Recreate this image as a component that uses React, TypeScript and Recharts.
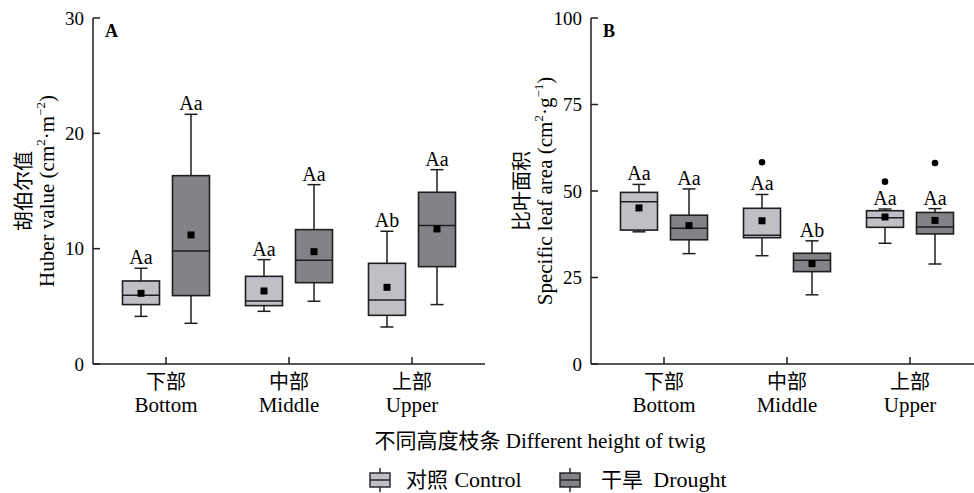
import React from "react";
import { Bar, ComposedChart, XAxis, YAxis } from "recharts";

const FONT = "'Liberation Serif', 'Times New Roman', 'Noto Sans CJK SC', serif";
const CONTROL_FILL = "#c1bfc6";
const DROUGHT_FILL = "#838287";
const INK = "#1e1e1e";

const heightsZh = ["下部", "中部", "上部"];
const heightsEn = ["Bottom", "Middle", "Upper"];

// box stats per twig height: [min, q1, median, q3, max]
const huberControl = [
  [4.13, 5.15, 5.96, 7.2, 8.3],
  [4.57, 5.06, 5.46, 7.6, 9.05],
  [3.21, 4.22, 5.55, 8.73, 11.51],
];
const huberControlMean = [6.13, 6.33, 6.65];
const huberControlLetters = ["Aa", "Aa", "Ab"];
const huberDrought = [
  [3.53, 5.93, 9.8, 16.33, 21.65],
  [5.44, 7.05, 8.99, 11.65, 15.55],
  [5.15, 8.44, 12.0, 14.89, 16.85],
];
const huberDroughtMean = [11.19, 9.74, 11.71];
const huberDroughtLetters = ["Aa", "Aa", "Aa"];
const huberTicks = [0, 10, 20, 30];

const slaControl = [
  [38.2, 38.7, 46.9, 49.6, 51.9],
  [31.3, 36.5, 37.2, 45.0, 49.0],
  [34.9, 39.5, 42.3, 44.3, 44.8],
];
const slaControlMean = [45.1, 41.4, 42.5];
const slaControlOutliers = [[], [58.3], [52.7]];
const slaControlLetters = ["Aa", "Aa", "Aa"];
const slaDrought = [
  [31.9, 35.9, 39.2, 43.0, 50.6],
  [20.0, 26.7, 30.0, 32.0, 35.6],
  [28.9, 37.6, 39.6, 43.8, 44.9],
];
const slaDroughtMean = [40.0, 29.0, 41.5];
const slaDroughtOutliers = [[], [], [58.1]];
const slaDroughtLetters = ["Aa", "Ab", "Aa"];
const slaTicks = [0, 25, 50, 75, 100];

type Stat = { box: number[]; mean: number; letter: string; outliers: number[] };
type Row = { name: string; control: Stat; drought: Stat };

function buildRows(
  c: number[][], cMean: number[], cLet: string[], cOut: number[][],
  d: number[][], dMean: number[], dLet: string[], dOut: number[][]
): Row[] {
  return heightsZh.map((name, i) => ({
    name,
    control: { box: c[i], mean: cMean[i], letter: cLet[i], outliers: cOut[i] },
    drought: { box: d[i], mean: dMean[i], letter: dLet[i], outliers: dOut[i] },
  }));
}

const none = [[], [], []];
const huberRows = buildRows(
  huberControl, huberControlMean, huberControlLetters, none,
  huberDrought, huberDroughtMean, huberDroughtLetters, none
);
const slaRows = buildRows(
  slaControl, slaControlMean, slaControlLetters, slaControlOutliers,
  slaDrought, slaDroughtMean, slaDroughtLetters, slaDroughtOutliers
);

function span(s: Stat): [number, number] {
  return [Math.min(s.box[0], ...s.outliers), Math.max(s.box[4], ...s.outliers)];
}

function makeBoxShape(key: "control" | "drought", fill: string) {
  return (props: any) => {
    const { x, y, width, height, payload } = props;
    const s: Stat = payload[key];
    const [lo, hi] = span(s);
    const yLo = y + height;
    const yHi = y;
    const py = (v: number) => yLo + ((v - lo) / (hi - lo)) * (yHi - yLo);
    const cx = x + width / 2;
    const cap = 6.5;
    const [mn, q1, md, q3, mx] = s.box;
    const line = { stroke: INK, strokeWidth: 1.5 };
    return (
      <g>
        <line x1={cx} x2={cx} y1={py(mx)} y2={py(q3)} {...line} />
        <line x1={cx} x2={cx} y1={py(q1)} y2={py(mn)} {...line} />
        <line x1={cx - cap} x2={cx + cap} y1={py(mx)} y2={py(mx)} {...line} />
        <line x1={cx - cap} x2={cx + cap} y1={py(mn)} y2={py(mn)} {...line} />
        <rect x={x} y={py(q3)} width={width} height={py(q1) - py(q3)} fill={fill} stroke={INK} strokeWidth={1.6} />
        <line x1={x} x2={x + width} y1={py(md)} y2={py(md)} {...line} />
        <rect x={cx - 3.5} y={py(s.mean) - 3.5} width={7} height={7} fill="#000" />
        {s.outliers.map((o, i) => (
          <circle key={i} cx={cx} cy={py(o)} r={3.3} fill="#000" />
        ))}
        <text x={cx} y={py(mx) - 4} textAnchor="middle" fontSize={20} fontFamily={FONT} fill="#000">
          {s.letter}
        </text>
      </g>
    );
  };
}

function HeightTick(props: any) {
  const { x, y, payload } = props;
  const i = heightsZh.indexOf(payload.value);
  return (
    <g fontFamily={FONT} fill="#000" fontSize={20}>
      <text x={x} y={y + 25} textAnchor="middle">{heightsZh[i]}</text>
      <text x={x} y={y + 48} textAnchor="middle" fontSize={21}>{heightsEn[i]}</text>
    </g>
  );
}

function YTitle(props: any) {
  const { zh, en, unit, power, tag } = props;
  const cy = 191;
  return (
    <g fontFamily={FONT} fill="#000">
      <text x={24} y={cy} transform={`rotate(-90 24 ${cy})`} textAnchor="middle" dominantBaseline="central" fontSize={20}>
        {zh}
      </text>
      <text x={47} y={cy} transform={`rotate(-90 47 ${cy})`} textAnchor="middle" dominantBaseline="central" fontSize={21}>
        {en} (cm
        <tspan dy={-7} fontSize={13}>2</tspan>
        <tspan dy={7}>·{unit}</tspan>
        <tspan dy={-7} fontSize={13}>{power}</tspan>
        <tspan dy={7}>)</tspan>
      </text>
      <text x={105} y={37} fontSize={18} fontWeight="bold">{tag}</text>
    </g>
  );
}

function Panel(props: {
  rows: Row[]; ticks: number[]; tag: string; zh: string; en: string; unit: string; power: string;
}) {
  const { rows, ticks, tag, zh, en, unit, power } = props;
  const axisLine = { stroke: INK, strokeWidth: 1.5 };
  return (
    <ComposedChart width={495} height={430} data={rows} barGap={13} margin={{ top: 18, right: 10, bottom: 0, left: 0 }}>
      <XAxis
        dataKey="name"
        padding={{ left: 11.5, right: 11.5 }}
        height={66}
        tickSize={-7}
        tickMargin={7}
        interval={0}
        axisLine={axisLine}
        tickLine={axisLine}
        tick={<HeightTick />}
      />
      <YAxis
        type="number"
        width={93}
        domain={[ticks[0], ticks[ticks.length - 1]]}
        ticks={ticks}
        tickSize={-7}
        tickMargin={16}
        axisLine={axisLine}
        tickLine={axisLine}
        tick={{ fontSize: 19, fill: "#000", fontFamily: FONT }}
        label={<YTitle zh={zh} en={en} unit={unit} power={power} tag={tag} />}
      />
      <Bar dataKey={(d: Row) => span(d.control)} barSize={37} shape={makeBoxShape("control", CONTROL_FILL)} isAnimationActive={false} />
      <Bar dataKey={(d: Row) => span(d.drought)} barSize={37} shape={makeBoxShape("drought", DROUGHT_FILL)} isAnimationActive={false} />
    </ComposedChart>
  );
}

function LegendIcon({ x, fill }: { x: number; fill: string }) {
  return (
    <g stroke={INK} strokeWidth={1.4}>
      <line x1={x + 10} x2={x + 10} y1={48} y2={72} />
      <rect x={x} y={53} width={20} height={14} fill={fill} />
      <line x1={x} x2={x + 20} y1={60} y2={60} />
    </g>
  );
}

export default function App() {
  return (
    <div style={{ position: "absolute", left: 0, top: 0, width: 974, height: 493, overflow: "hidden", background: "#fff" }}>
      <div style={{ position: "absolute", left: 0, top: 0 }}>
        <Panel rows={huberRows} ticks={huberTicks} tag="A" zh="胡伯尔值" en="Huber value" unit="m" power="−2" />
      </div>
      <div style={{ position: "absolute", left: 498, top: 0 }}>
        <Panel rows={slaRows} ticks={slaTicks} tag="B" zh="比叶面积" en="Specific leaf area" unit="g" power="−1" />
      </div>
      <svg style={{ position: "absolute", left: 0, top: 420 }} width={974} height={73}>
        <g fontFamily={FONT} fill="#000" fontSize={21}>
          <text x={540} y={28} textAnchor="middle">不同高度枝条 Different height of twig</text>
          <LegendIcon x={370} fill={CONTROL_FILL} />
          <text x={427} y={67} textAnchor="middle">对照</text>
          <text x={488} y={67} textAnchor="middle" fontSize={22}>Control</text>
          <LegendIcon x={560} fill={DROUGHT_FILL} />
          <text x={622} y={67} textAnchor="middle">干旱</text>
          <text x={690} y={67} textAnchor="middle" fontSize={22}>Drought</text>
        </g>
      </svg>
    </div>
  );
}
